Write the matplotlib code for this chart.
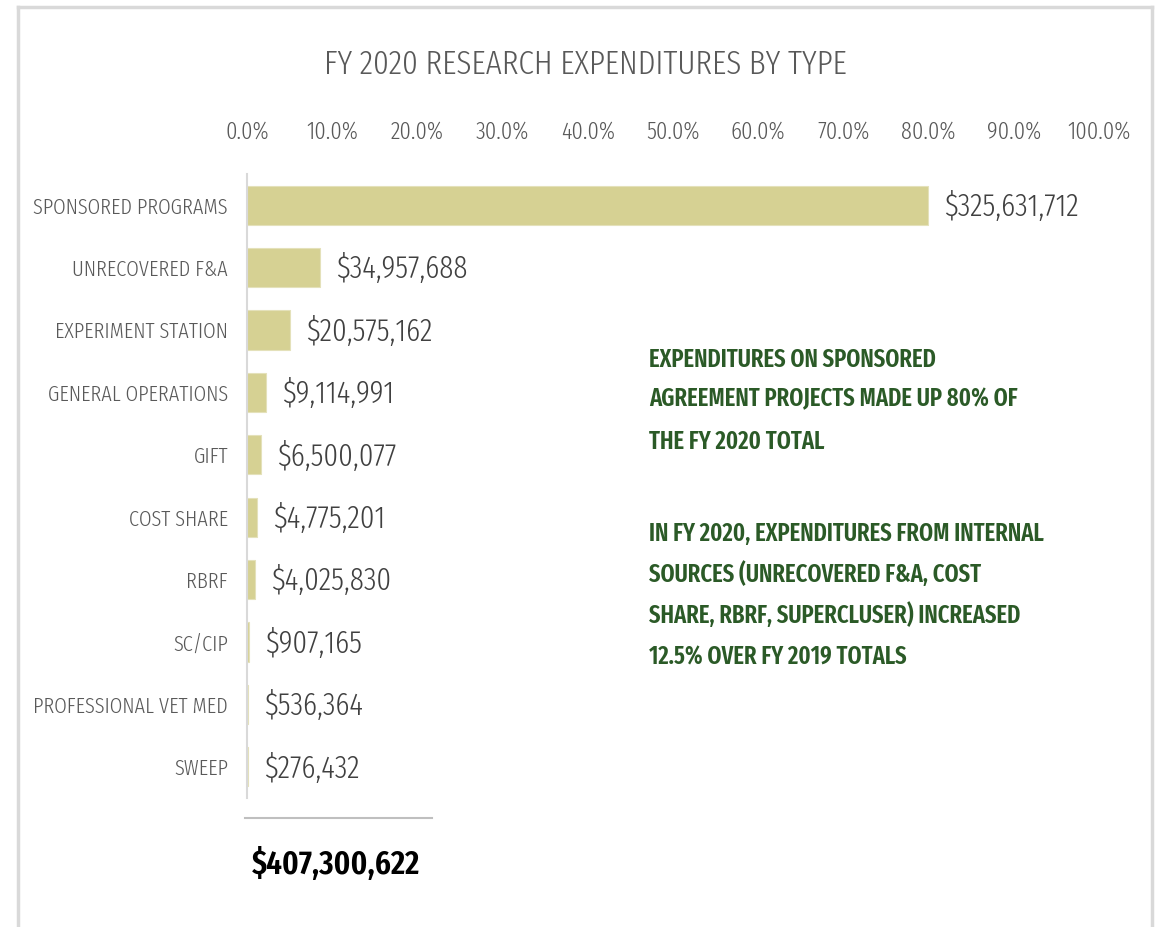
import matplotlib
matplotlib.use("Agg")
import matplotlib.pyplot as plt
from matplotlib.lines import Line2D
from matplotlib.font_manager import fontManager, FontProperties
from matplotlib.textpath import TextPath

categories = ["SPONSORED PROGRAMS", "UNRECOVERED F&A", "EXPERIMENT STATION",
              "GENERAL OPERATIONS", "GIFT", "COST SHARE", "RBRF", "SC/CIP",
              "PROFESSIONAL VET MED", "SWEEP"]
amounts = [325631712, 34957688, 20575162, 9114991, 6500077, 4775201,
           4025830, 907165, 536364, 276432]
total = 407300622
x_ticks = [0, 10, 20, 30, 40, 50, 60, 70, 80, 90, 100]
title = "FY 2020 RESEARCH EXPENDITURES BY TYPE"
note1 = ["EXPENDITURES ON SPONSORED", "AGREEMENT PROJECTS MADE UP 80% OF",
         "THE FY 2020 TOTAL"]
note2 = ["IN FY 2020, EXPENDITURES FROM INTERNAL", "SOURCES (UNRECOVERED F&A, COST",
         "SHARE, RBRF, SUPERCLUSER) INCREASED", "12.5% OVER FY 2019 TOTALS"]

shares = [a / total * 100 for a in amounts]

names = {f.name for f in fontManager.ttflist}
FAM = next((n for n in ["Fira Sans Extra Condensed", "Roboto Condensed", "Carlito", "DejaVu Sans"]
            if n in names), "DejaVu Sans")
plt.rcParams['font.family'] = [FAM, 'DejaVu Sans']
LIGHT = 300
BOLD = 600

W, H = 1161, 927
fig = plt.figure(figsize=(W / 100, H / 100), dpi=100)
renderer = fig.canvas.get_renderer()


def fit_size(s, target_px, weight=LIGHT):
    t = fig.text(0, 0, s, fontsize=10, fontweight=weight)
    w = t.get_window_extent(renderer).width
    t.remove()
    return 10 * target_px / w


def cap_px(size_pt, weight=LIGHT):
    tp = TextPath((0, 0), "H", size=size_pt * 100 / 72, prop=FontProperties(family=FAM, weight=weight))
    return tp.get_extents().height


sz_title = fit_size(title, 526)
sz_tick = fit_size("100.0%", 64)
sz_cat = fit_size("SPONSORED PROGRAMS", 195)
sz_val = fit_size("$325,631,712", 136)
sz_note = fit_size("AGREEMENT PROJECTS MADE UP 80% OF", 369, BOLD)
sz_total = fit_size("$407,300,622", 168, BOLD)

ax_top, ax_bot = 174, 798
ax = fig.add_axes([247 / W, 1 - ax_bot / H, (1099 - 247) / W, (ax_bot - ax_top) / H])

pos = list(range(len(categories)))
ax.barh(pos, shares, height=0.63, color="#D6D193", edgecolor="#E4E1BA", linewidth=0.8)
ax.set_xlim(0, 100)
ax.set_ylim(len(categories) - 0.5, -0.5)

ax.xaxis.tick_top()
ax.set_xticks(x_ticks)
ax.set_xticklabels([f"{t:.1f}%" for t in x_ticks], fontsize=sz_tick, color="#595959",
                   fontweight=LIGHT)
for lab in ax.get_xticklabels():
    lab.set_verticalalignment("baseline")
tick_pad_px = ax_top - (130 + cap_px(sz_tick) / 2)
ax.tick_params(axis='x', length=0, pad=tick_pad_px * 0.72)
ax.set_yticks(pos)
ax.set_yticklabels(categories, fontsize=sz_cat, color="#595959", fontweight=LIGHT)
ax.tick_params(axis='y', length=0, pad=19 * 0.72)

for s in ["top", "right", "bottom"]:
    ax.spines[s].set_visible(False)
ax.spines["left"].set_color("#D9D9D9")
ax.spines["left"].set_linewidth(1.5)

cap_val = cap_px(sz_val)
for p, sh, a in zip(pos, shares, amounts):
    ax.annotate(f"${a:,}", xy=(sh, p), xytext=(16, -cap_val / 2), textcoords="offset pixels",
                va="baseline", ha="left", fontsize=sz_val, color="#404040",
                fontweight=LIGHT)

fig.text(585 / W, 1 - (62 + cap_px(sz_title) / 2) / H, title, ha="center", va="baseline",
         fontsize=sz_title, color="#595959", fontweight=LIGHT)

green = "#2B5A27"
cap_note = cap_px(sz_note, BOLD)
note_y1 = [358, 398, 440]
note_y2 = [532, 573, 614, 656]
for line, y in list(zip(note1, note_y1)) + list(zip(note2, note_y2)):
    fig.text(649 / W, 1 - (y + cap_note / 2) / H, line, ha="left", va="baseline",
             fontsize=sz_note, fontweight=BOLD, color=green)

fig.add_artist(Line2D([245 / W, 432 / W], [1 - 818 / H, 1 - 818 / H], color="#BFBFBF", lw=1.5))
cap_tot = cap_px(sz_total, BOLD)
fig.text(336 / W, 1 - (862 + cap_tot / 2) / H, f"${total:,}", ha="center", va="baseline",
         fontsize=sz_total, fontweight=BOLD, color="black")

# frame border
border = "#D9D9D9"
fig.add_artist(Line2D([18 / W, 1152 / W], [1 - 6.5 / H, 1 - 6.5 / H], color=border, lw=2.5))
fig.add_artist(Line2D([18 / W, 18 / W], [1 - 6.5 / H, 0], color=border, lw=2.5))
fig.add_artist(Line2D([1152 / W, 1152 / W], [1 - 6.5 / H, 0], color=border, lw=2.5))

fig.savefig("out.png", dpi=100, facecolor="white")
